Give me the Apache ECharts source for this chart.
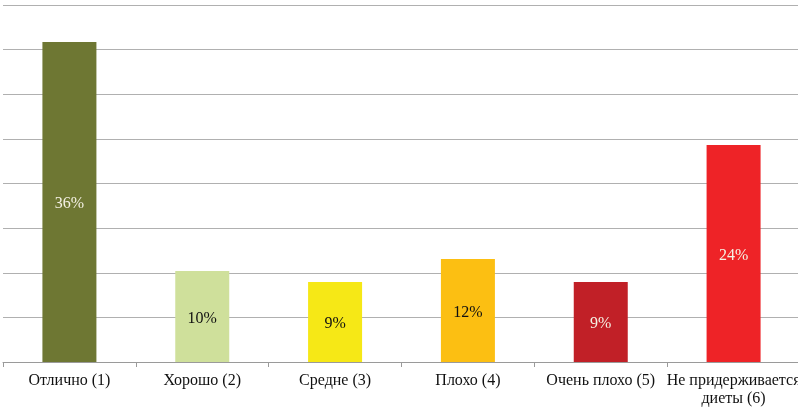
<!DOCTYPE html>
<html>
<head>
<meta charset="utf-8">
<script src="https://cdn.jsdelivr.net/npm/echarts@6/dist/echarts.min.js"></script>
<style>
  html, body { margin: 0; padding: 0; background: #fff; }
  #chart { width: 798px; height: 407px; }
</style>
</head>
<body>
<div id="chart"></div>
<script>
// категории и значения (%)
const categories = ['Отлично (1)', 'Хорошо (2)', 'Средне (3)', 'Плохо (4)', 'Очень плохо (5)', 'Не придерживается\nдиеты (6)'];
const values = [35.85, 10.2, 8.96, 11.54, 8.96, 24.3];
const barColors = ['#6e7733', '#cfe09b', '#f6e816', '#fcbf12', '#c12027', '#ee2327'];
const labelColors = ['#f4f1e4', '#111111', '#111111', '#111111', '#f4f1e4', '#f4f1e4'];

const fontFamily = '"Liberation Serif", "DejaVu Serif", serif';

const chart = echarts.init(document.getElementById('chart'));

const seriesData = values.map((v, i) => ({
  value: v,
  itemStyle: { color: barColors[i] },
  label: { color: labelColors[i] }
}));

chart.setOption({
  animation: false,
  grid: {
    left: 3,
    width: 797,
    top: 5,
    bottom: 45,
    containLabel: false,
    outerBoundsMode: 'none'
  },
  xAxis: {
    type: 'category',
    data: categories,
    axisLine: { lineStyle: { color: '#9a9a9a', width: 1 } },
    axisTick: { show: true, alignWithLabel: false, length: 5, lineStyle: { color: '#9a9a9a' } },
    axisLabel: {
      interval: 0,
      color: '#111',
      fontFamily,
      fontSize: 16,
      lineHeight: 18,
      margin: 10,
      hideOverlap: false
    }
  },
  yAxis: {
    type: 'value',
    min: 0,
    max: 40,
    interval: 5,
    axisLine: { show: false },
    axisTick: { show: false },
    axisLabel: { show: false },
    splitLine: { lineStyle: { color: '#b0b0b0', width: 1 } }
  },
  series: [{
    type: 'bar',
    data: seriesData,
    barWidth: 54,
    label: {
      show: true,
      position: 'inside',
      fontFamily,
      fontSize: 16,
      offset: [0, 2],
      formatter: p => Math.round(p.value) + '%'
    }
  }]
});
</script>
</body>
</html>
